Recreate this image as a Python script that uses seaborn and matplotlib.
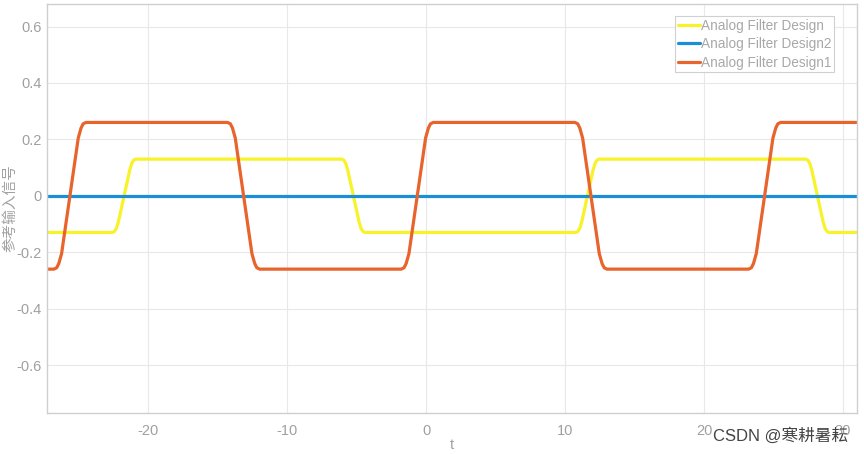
import pandas as pd
import seaborn as sns
import matplotlib.pyplot as plt

# values
t_design = [-27.3,
            -22.6, -22.45, -22.3, -22.15, -21.75, -21.35, -21.2, -21.05, -20.9,
            -6.1, -5.95, -5.8, -5.65, -5.25, -4.85, -4.7, -4.55, -4.4,
            10.75, 10.9, 11.05, 11.2, 11.6, 12.0, 12.15, 12.3, 12.45,
            27.3, 27.45, 27.6, 27.75, 28.15, 28.55, 28.7, 28.85, 29.0,
            31.0]
y_design = [-0.13,
            -0.13, -0.127, -0.115, -0.09, 0.0, 0.09, 0.115, 0.127, 0.13,
            0.13, 0.127, 0.115, 0.09, 0.0, -0.09, -0.115, -0.127, -0.13,
            -0.13, -0.127, -0.115, -0.09, 0.0, 0.09, 0.115, 0.127, 0.13,
            0.13, 0.127, 0.115, 0.09, 0.0, -0.09, -0.115, -0.127, -0.13,
            -0.13]

t_design2 = [-27.3, 31.0]
y_design2 = [0.0, 0.0]

t_design1 = [-27.3,
             -26.8, -26.6, -26.45, -26.25, -25.65, -25.05, -24.85, -24.7, -24.5,
             -14.3, -14.1, -13.95, -13.75, -13.15, -12.55, -12.35, -12.2, -12.0,
             -1.8, -1.6, -1.45, -1.25, -0.65, -0.05, 0.15, 0.3, 0.5,
             10.7, 10.9, 11.05, 11.25, 11.85, 12.45, 12.65, 12.8, 13.0,
             23.2, 23.4, 23.55, 23.75, 24.35, 24.95, 25.15, 25.3, 25.5,
             31.0]
y_design1 = [-0.26,
             -0.26, -0.255, -0.24, -0.205, 0.0, 0.205, 0.24, 0.255, 0.26,
             0.26, 0.255, 0.24, 0.205, 0.0, -0.205, -0.24, -0.255, -0.26,
             -0.26, -0.255, -0.24, -0.205, 0.0, 0.205, 0.24, 0.255, 0.26,
             0.26, 0.255, 0.24, 0.205, 0.0, -0.205, -0.24, -0.255, -0.26,
             -0.26, -0.255, -0.24, -0.205, 0.0, 0.205, 0.24, 0.255, 0.26,
             0.26]

series_names = ['Analog Filter Design', 'Analog Filter Design2', 'Analog Filter Design1']
colors = ['#F7F229', '#1B8FD6', '#E8642C']

df = pd.concat([
    pd.DataFrame({'t': t_design, 'y': y_design, 'name': series_names[0]}),
    pd.DataFrame({'t': t_design2, 'y': y_design2, 'name': series_names[1]}),
    pd.DataFrame({'t': t_design1, 'y': y_design1, 'name': series_names[2]}),
])

sns.set_theme(style='whitegrid')
plt.rcParams['font.family'] = ['Liberation Sans', 'Noto Sans CJK SC', 'DejaVu Sans']
plt.rcParams['axes.unicode_minus'] = False

text_gray = '#a0a0a0'

fig = plt.figure(figsize=(8.64, 4.54), dpi=100)
ax = fig.add_axes([0.0544, 0.0903, 0.9375, 0.901])

sns.lineplot(data=df, x='t', y='y', hue='name', palette=colors, hue_order=series_names,
             estimator=None, sort=False, linewidth=2.3, ax=ax)

ax.set_xlim(-27.3, 31.0)
ax.set_ylim(-0.77, 0.68)
ax.set_xticks([-20, -10, 0, 10, 20, 30])
ax.set_yticks([-0.6, -0.4, -0.2, 0, 0.2, 0.4, 0.6])
ax.set_xticklabels(['-20', '-10', '0', '10', '20', '30'])
ax.set_yticklabels(['-0.6', '-0.4', '-0.2', '0', '0.2', '0.4', '0.6'])
ax.tick_params(axis='y', colors=text_gray, labelsize=10.5, length=0, pad=4)
ax.tick_params(axis='x', colors=text_gray, labelsize=10.5, length=0, pad=8)
ax.grid(color='#e8e8e8', linewidth=0.8)
for sp in ax.spines.values():
    sp.set_color('#cfcfcf')
    sp.set_linewidth(1.0)

ax.set_xlabel('t', color=text_gray, fontsize=10.5, labelpad=0)
ax.set_ylabel('参考输入信号', color=text_gray, fontsize=10.5)
ax.yaxis.set_label_coords(-0.036, 0.5)

leg = ax.legend(loc='upper right', bbox_to_anchor=(0.9716, 0.9707), borderaxespad=0,
                fontsize=9.8, handlelength=1.6, handletextpad=0.1, borderpad=0.2,
                labelspacing=0.33, fancybox=False, framealpha=1, edgecolor='#d0d0d0')
leg.get_frame().set_linewidth(0.8)
for txt in leg.get_texts():
    txt.set_color('#a8a8a8')

fig.text(0.982, 0.022, 'CSDN @寒耕暑耘', ha='right', va='bottom', fontsize=12, color='#444444')

fig.savefig('out.png', dpi=100)
